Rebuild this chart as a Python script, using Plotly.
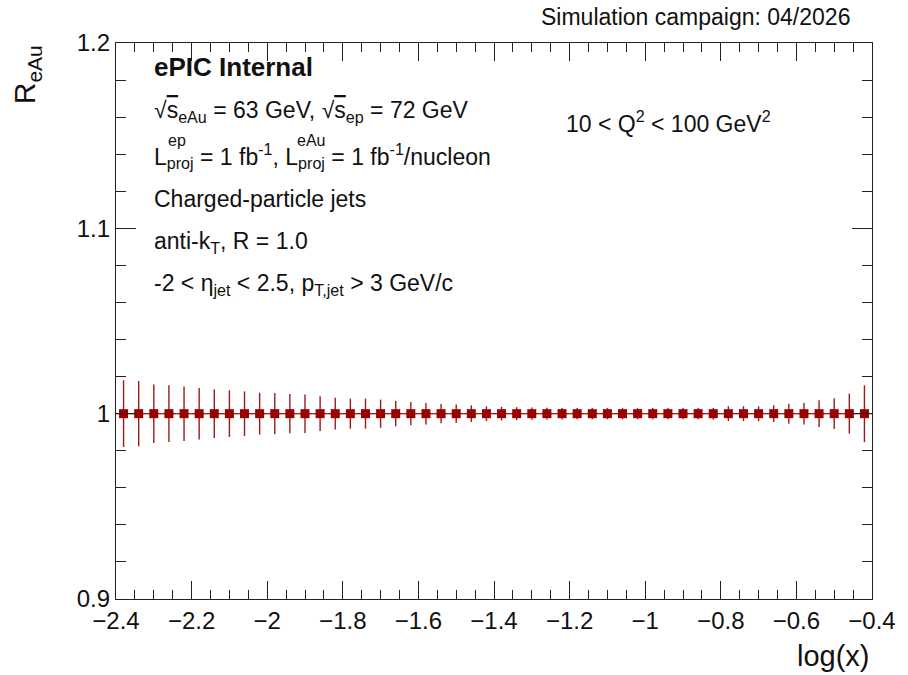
import plotly.graph_objects as go

# Bin centres in log(x) and the eA/ep ratio with its projected statistical uncertainty
log_x = [-2.38, -2.34, -2.30, -2.26, -2.22, -2.18, -2.14, -2.10, -2.06, -2.02,
         -1.98, -1.94, -1.90, -1.86, -1.82, -1.78, -1.74, -1.70, -1.66, -1.62,
         -1.58, -1.54, -1.50, -1.46, -1.42, -1.38, -1.34, -1.30, -1.26, -1.22,
         -1.18, -1.14, -1.10, -1.06, -1.02, -0.98, -0.94, -0.90, -0.86, -0.82,
         -0.78, -0.74, -0.70, -0.66, -0.62, -0.58, -0.54, -0.50, -0.46, -0.42]
r_eau = [1.0, 1.0, 1.0, 1.0, 1.0, 1.0, 1.0, 1.0, 1.0, 1.0,
         1.0, 1.0, 1.0, 1.0, 1.0, 1.0, 1.0, 1.0, 1.0, 1.0,
         1.0, 1.0, 1.0, 1.0, 1.0, 1.0, 1.0, 1.0, 1.0, 1.0,
         1.0, 1.0, 1.0, 1.0, 1.0, 1.0, 1.0, 1.0, 1.0, 1.0,
         1.0, 1.0, 1.0, 1.0, 1.0, 1.0, 1.0, 1.0, 1.0, 1.0]
r_err = [0.0180, 0.0176, 0.0158, 0.0153, 0.0147, 0.0139, 0.0131, 0.0126, 0.0120, 0.0113,
         0.0111, 0.0106, 0.0104, 0.0094, 0.0086, 0.0081, 0.0081, 0.0076, 0.0068, 0.0063,
         0.0058, 0.0052, 0.0050, 0.0045, 0.0040, 0.0037, 0.0035, 0.0033, 0.0032, 0.0031,
         0.0030, 0.0030, 0.0030, 0.0030, 0.0030, 0.0030, 0.0030, 0.0030, 0.0030, 0.0031,
         0.0040, 0.0040, 0.0040, 0.0045, 0.0054, 0.0058, 0.0072, 0.0083, 0.0108, 0.0153]
bin_half_width = [0.02] * len(log_x)

RED = "#990000"
FONT = "Liberation Sans, Arial, Helvetica, sans-serif"

fig = go.Figure()
fig.add_trace(go.Scatter(
    x=log_x, y=r_eau, mode="markers",
    marker=dict(symbol="square", size=9, color=RED, line=dict(width=0)),
    error_y=dict(type="data", array=r_err, visible=True, color="#9a1a1a", thickness=1.4, width=0),
    error_x=dict(type="data", array=bin_half_width, visible=True, color="#9a1a1a", thickness=1.4, width=0),
    showlegend=False,
))

axis_common = dict(
    showline=True, linecolor="#222", linewidth=1.2, mirror="ticks",
    ticks="inside", tickcolor="#222", tickwidth=1.2,
    showgrid=False, zeroline=False,
    tickfont=dict(family=FONT, size=24, color="#111"),
)

fig.update_xaxes(
    range=[-2.4, -0.4], tick0=-2.4, dtick=0.2, ticklen=18,
    minor=dict(ticks="inside", dtick=0.05, ticklen=9, tickcolor="#222", tickwidth=1.2),
    **axis_common,
)
fig.update_yaxes(
    range=[0.9, 1.2], tick0=0.9, dtick=0.1, ticklen=20,
    minor=dict(ticks="inside", dtick=0.02, ticklen=10, tickcolor="#222", tickwidth=1.2),
    **axis_common,
)

txt = dict(family=FONT, size=23, color="#111")
small = dict(family=FONT, size=16, color="#111")
ann = []


def label(text, x, y, xanchor="left", yanchor="middle", font=txt, **kw):
    ann.append(dict(text=text, x=x, y=y, xref="paper", yref="paper",
                    xanchor=xanchor, yanchor=yanchor, showarrow=False,
                    font=font, **kw))


label("<b>ePIC Internal</b>", 0.048, 0.957, font=dict(family=FONT, size=26, color="#111"))
label("√<span style='text-decoration:overline'>s</span><sub>eAu</sub> = 63 GeV, "
      "√<span style='text-decoration:overline'>s</span><sub>ep</sub> = 72 GeV", 0.048, 0.876)
label("L<sub>proj</sub> = 1 fb<sup>-1</sup>, L<sub>proj</sub> = 1 fb<sup>-1</sup>/nucleon",
      0.048, 0.797)
label("ep", 0.0665, 0.825, font=small)
label("eAu", 0.2366, 0.825, font=small)
label("Charged-particle jets", 0.048, 0.719)
label("anti-k<sub>T</sub>, R = 1.0", 0.048, 0.642)
label("-2 < η<sub>jet</sub> < 2.5, p<sub>T,jet</sub> > 3 GeV/c", 0.048, 0.565)
label("10 < Q<sup>2</sup> < 100 GeV<sup>2</sup>", 0.593, 0.858)
label("Simulation campaign: 04/2026", 0.974, 1.047, xanchor="right")

# axis titles, ROOT style: aligned to the end of each axis
label("log(x)", 1.0, -0.1025, xanchor="right",
      font=dict(family=FONT, size=29, color="#111"))
label("R<sub>eAu</sub>", -0.118, 1.0, xanchor="center", yanchor="top", textangle=-90,
      font=dict(family=FONT, size=30, color="#111"))

fig.update_layout(
    width=908, height=675,
    margin=dict(l=116, r=27, t=43, b=76),
    paper_bgcolor="white", plot_bgcolor="white",
    annotations=ann,
)

fig.write_html("out.html")
